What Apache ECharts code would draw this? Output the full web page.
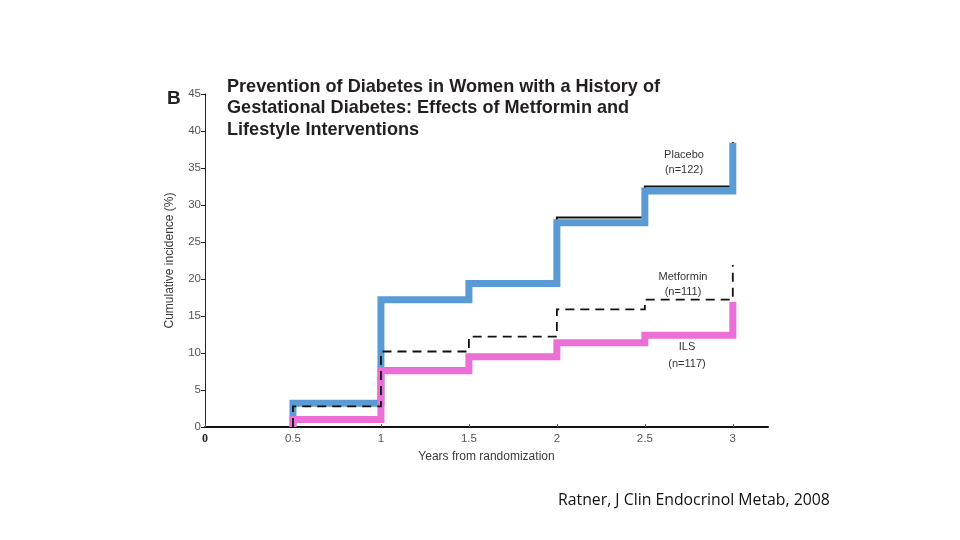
<!DOCTYPE html>
<html><head><meta charset="utf-8">
<script src="https://cdn.jsdelivr.net/npm/echarts@6/dist/echarts.min.js"></script>
<style>html,body{margin:0;padding:0;background:#fff}#c{width:960px;height:540px}</style>
</head><body><div id="c"></div>
<script>
// interval start times (years)
var stepTimes = [0.5, 1, 1.5, 2, 2.5];
var endTime = 3;
var xTicks = [0, 0.5, 1, 1.5, 2, 2.5, 3];
// cumulative incidence (%) per interval, plus final value at year 3
var placeboBlue = [3.2, 17.2, 19.4, 27.6, 31.9];
var placeboBlueEnd = 38.4;
var placeboBlack = [3.2, 17.2, 19.5, 28.3, 32.5];
var placeboBlackEnd = 38.5;
var metformin = [2.8, 10.2, 12.2, 15.9, 17.2];
var metforminEnd = 21.9;
var ilsPink = [1.0, 7.6, 9.5, 11.4, 12.4];
var ilsPinkEnd = 16.9;
var ilsBlack = [1.0, 7.9, 9.6, 11.6, 12.7];
var ilsBlackEnd = 16.9;

function steps(vals, endVal) {
  var d = [[stepTimes[0], 0]];
  stepTimes.forEach(function (t, i) { d.push([t, vals[i]]); });
  d.push([endTime, vals[vals.length - 1]]);
  d.push([endTime, endVal]);
  return d;
}
function line(name, vals, endVal, color, width, type, z) {
  return {
    name: name, type: 'line', step: 'end', data: steps(vals, endVal),
    symbol: 'none', z: z, animation: false,
    lineStyle: { color: color, width: width, type: type, cap: 'butt', join: 'miter' }
  };
}
var chart = echarts.init(document.getElementById('c'));
var grey = '#3a3a3a';
chart.setOption({
  backgroundColor: '#fff',
  animation: false,
  grid: { left: 205, right: 192, top: 94, bottom: 113 },
  xAxis: {
    type: 'value', min: 0, max: 3.2,
    name: 'Years from randomization', nameLocation: 'middle', nameGap: 24,
    nameTextStyle: { color: grey, fontSize: 12, fontFamily: 'Liberation Sans' },
    axisLine: { lineStyle: { color: '#111', width: 2 } },
    axisTick: { show: true, length: 3, inside: true, customValues: xTicks, lineStyle: { color: '#555' } },
    axisLabel: {
      customValues: xTicks, margin: 6, color: '#555', fontSize: 11.5, fontFamily: 'Liberation Sans',
      formatter: function (v) { return v === 0 ? '{z|0}' : String(v); },
      rich: { z: { fontWeight: 'bold', color: '#222', fontFamily: 'Liberation Serif', fontSize: 12 } }
    },
    splitLine: { show: false }
  },
  yAxis: {
    type: 'value', min: 0, max: 45, interval: 5,
    name: 'Cumulative incidence (%)', nameLocation: 'middle', nameGap: 29,
    nameTextStyle: { color: grey, fontSize: 12, fontFamily: 'Liberation Sans' },
    axisLine: { show: true, lineStyle: { color: '#222', width: 1 } },
    axisTick: { show: true, length: 4, lineStyle: { color: '#222' } },
    axisLabel: { color: '#555', fontSize: 11.5, margin: 4, fontFamily: 'Liberation Sans' },
    splitLine: { show: false }
  },
  graphic: [
    { type: 'text', left: 167, top: 89, style: { text: 'B', font: 'bold 19px "Liberation Sans"', fill: '#222' } },
    { type: 'text', left: 227, top: 76, style: {
      text: 'Prevention of Diabetes in Women with a History of\nGestational Diabetes: Effects of Metformin and\nLifestyle Interventions',
      font: 'bold 18.1px "Liberation Sans"', fill: '#231f20', lineHeight: 21.5 } },
    { type: 'text', x: 684, y: 162, style: { text: 'Placebo\n(n=122)', font: '11px "Liberation Sans"', fill: '#333', align: 'center', verticalAlign: 'middle', lineHeight: 15 } },
    { type: 'text', x: 683, y: 284, style: { text: 'Metformin\n(n=111)', font: '11px "Liberation Sans"', fill: '#333', align: 'center', verticalAlign: 'middle', lineHeight: 15 } },
    { type: 'text', x: 687, y: 355, style: { text: 'ILS\n(n=117)', font: '11px "Liberation Sans"', fill: '#333', align: 'center', verticalAlign: 'middle', lineHeight: 17 } },
    { type: 'text', left: 558, top: 492, style: { text: 'Ratner, J Clin Endocrinol Metab, 2008', font: '15.8px "Open Sans"', fill: '#111' } }
  ],
  series: [
    line('Placebo (black)', placeboBlack, placeboBlackEnd, '#111', 2, 'solid', 1),
    line('ILS (black)', ilsBlack, ilsBlackEnd, '#111', 2, 'solid', 1),
    line('Placebo', placeboBlue, placeboBlueEnd, '#5b9bd5', 7, 'solid', 2),
    line('ILS', ilsPink, ilsPinkEnd, '#eb6fd7', 7, 'solid', 2),
    line('Metformin', metformin, metforminEnd, '#111', 1.8, [9, 6], 3)
  ]
});
</script></body></html>
